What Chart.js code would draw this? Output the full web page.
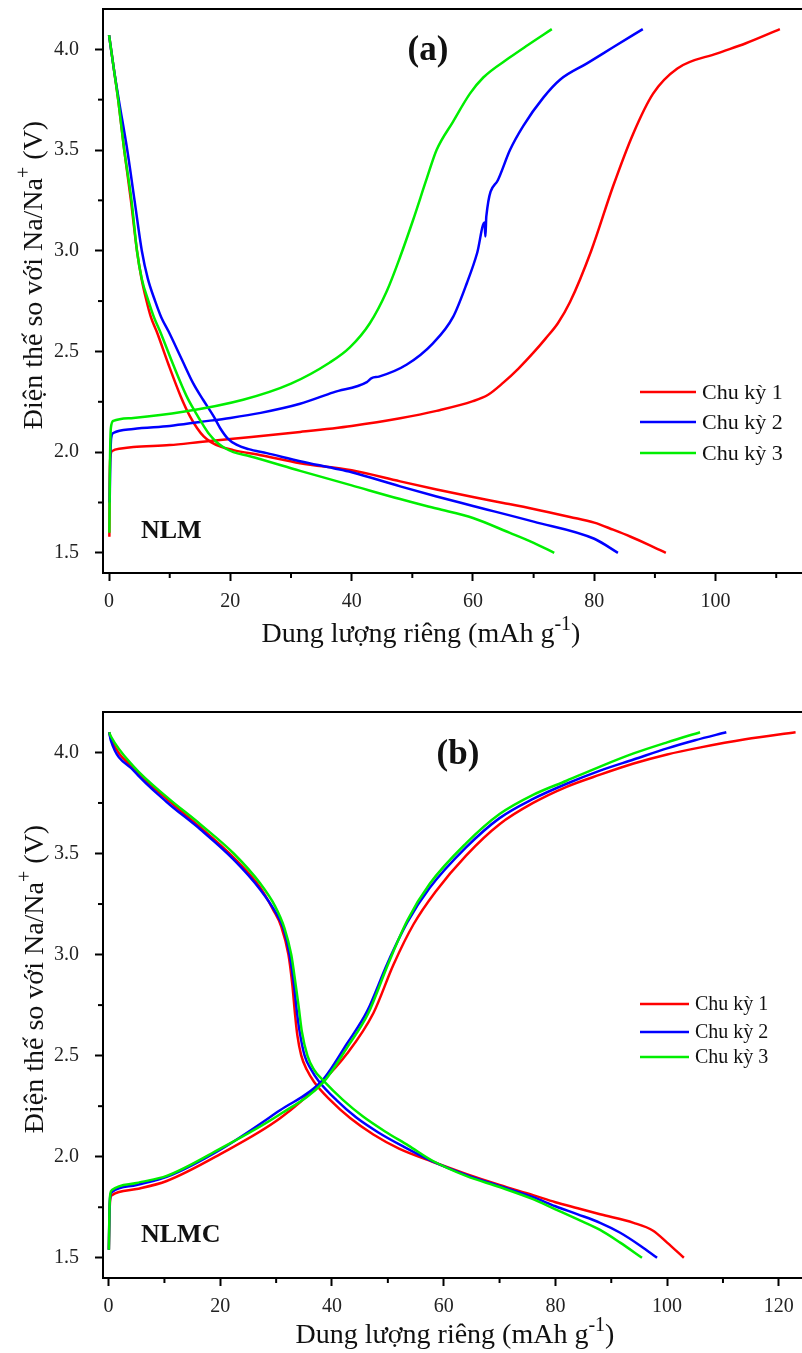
<!DOCTYPE html>
<html>
<head>
<meta charset="utf-8">
<script src="https://cdn.jsdelivr.net/npm/chart.js@4.4.0/dist/chart.umd.min.js"></script>
<style>
  body { margin: 0; background: #fff; }
  .panel { position: absolute; left: 0; width: 802px; }
</style>
</head>
<body>
<div class="panel" style="top:0;height:680px"><canvas id="chartA" width="802" height="680"></canvas></div>
<div class="panel" style="top:680px;height:673px"><canvas id="chartB" width="802" height="673"></canvas></div>
<script>
const FONT = '"Liberation Serif", "Times New Roman", serif';

// ---- (a) NLM : [capacity mAh/g, voltage V] ----
const nlmC1Discharge = [[0,4.07],[0.8,3.9],[1.5,3.75],[2.5,3.5],[3.6,3.25],[4.6,3.0],[5.3,2.87],[6.1,2.76],[6.9,2.67],[7.9,2.595],[9.8,2.435],[11.8,2.278],[13.3,2.18],[14.5,2.12],[15.6,2.078],[16.8,2.05],[18.5,2.026],[20.5,2.01],[25,1.985],[31.5,1.945],[40,1.91],[48,1.855],[54,1.815],[60,1.777],[65,1.748],[70,1.718],[76,1.678],[80,1.65],[83.1,1.615],[86,1.58],[89,1.54],[91.8,1.5]];
const nlmC2Discharge = [[0,4.07],[0.8,3.9],[1.6,3.75],[3.0,3.5],[4.2,3.25],[5.4,3.0],[6.4,2.86],[7.6,2.75],[8.6,2.67],[9.8,2.6],[12,2.46],[13.9,2.34],[15.5,2.26],[17.2,2.18],[18.3,2.12],[19.5,2.07],[21,2.037],[23,2.015],[26,1.995],[31.5,1.955],[37,1.92],[40,1.9],[48,1.83],[54,1.78],[60,1.733],[70,1.655],[80,1.57],[83.9,1.5]];
const nlmC3Discharge = [[0,4.07],[0.8,3.9],[1.5,3.75],[2.5,3.5],[3.7,3.25],[4.6,3.0],[5.4,2.86],[6.5,2.75],[7.4,2.67],[8.4,2.6],[10.5,2.44],[12.8,2.277],[14.2,2.2],[15.5,2.135],[16.5,2.09],[17.8,2.048],[19,2.022],[20.5,2.0],[23.2,1.98],[31.5,1.907],[40,1.835],[48,1.767],[54,1.72],[60,1.673],[66,1.6],[70,1.55],[73.4,1.5]];
const nlmC1Charge = [[0.05,1.58],[0.1,1.85],[0.2,1.97],[0.5,2.005],[2,2.018],[4,2.025],[10,2.035],[15,2.05],[20,2.065],[31.5,2.1],[40,2.13],[48,2.168],[54,2.205],[60,2.253],[62.5,2.285],[65,2.345],[67.5,2.415],[70,2.495],[72,2.565],[74,2.64],[76,2.745],[79.5,3.0],[83.1,3.32],[86.4,3.58],[89.7,3.78],[93.7,3.905],[100.3,3.98],[105,4.03],[110.6,4.1]];
const nlmC2Charge = [[0.1,1.75],[0.2,1.95],[0.35,2.07],[0.7,2.095],[4,2.115],[10,2.13],[15,2.15],[20,2.17],[25,2.195],[31.5,2.24],[37,2.297],[42.5,2.348],[43.3,2.368],[44.5,2.375],[49.1,2.435],[53.4,2.54],[56.7,2.67],[59,2.84],[60.7,2.99],[61.9,3.14],[62.05,3.07],[62.2,3.17],[64.1,3.35],[66.1,3.5],[68.3,3.62],[71.6,3.76],[74.4,3.85],[78.8,3.93],[83.1,4.01],[88,4.1]];
const nlmC3Charge = [[0.05,1.6],[0.15,1.95],[0.3,2.12],[0.7,2.155],[4,2.17],[12.2,2.2],[22.1,2.26],[30,2.34],[36.4,2.445],[39.7,2.52],[43,2.64],[45.8,2.8],[48,2.97],[50.1,3.15],[52.4,3.36],[54,3.5],[56.7,3.64],[59.5,3.78],[61.7,3.86],[66.1,3.96],[69,4.02],[73,4.1]];

// ---- (b) NLMC ----
const nlmcC1Discharge = [[0.1,4.1],[0.4,4.07],[4.5,3.92],[10.4,3.77],[16.4,3.63],[22.4,3.48],[27.2,3.33],[29.5,3.22],[30.9,3.14],[32.2,3.0],[32.9,2.85],[33.4,2.7],[33.8,2.6],[34.5,2.5],[35.5,2.43],[36.8,2.37],[39.7,2.28],[43.3,2.19],[47.4,2.11],[52,2.04],[58,1.975],[64,1.915],[70,1.86],[76,1.81],[80,1.775],[84,1.745],[88,1.715],[94,1.673],[97.5,1.634],[100,1.575],[103,1.5]];
const nlmcC2Discharge = [[0.1,4.1],[0.4,4.06],[4.5,3.91],[10.4,3.755],[16.4,3.62],[22.4,3.47],[27.2,3.32],[30.1,3.2],[31.3,3.13],[32.4,3.0],[33.2,2.85],[33.7,2.72],[34.2,2.62],[35.1,2.5],[36.3,2.43],[37.6,2.375],[40.8,2.28],[44.3,2.195],[48.3,2.12],[52.8,2.05],[58,1.977],[64,1.91],[70,1.855],[76,1.8],[80,1.755],[84,1.715],[88,1.673],[91.6,1.624],[95.2,1.56],[98.2,1.5]];
const nlmcC3Discharge = [[0.1,4.1],[0.4,4.08],[4.5,3.93],[10.4,3.78],[16.4,3.645],[22.4,3.5],[27.2,3.35],[29.8,3.24],[31.5,3.13],[32.7,3.0],[33.5,2.85],[34,2.75],[34.6,2.62],[35.6,2.5],[36.8,2.43],[38.5,2.375],[42,2.28],[45.5,2.2],[49.5,2.125],[53.7,2.055],[58,1.98],[64,1.905],[70,1.85],[76,1.79],[80,1.74],[84,1.69],[88,1.638],[91.6,1.575],[95.5,1.5]];
const nlmcC1Charge = [[0.05,1.54],[0.15,1.7],[0.3,1.79],[0.6,1.81],[5,1.84],[10.4,1.88],[20,2.013],[30.7,2.19],[38.2,2.37],[42.7,2.51],[47.4,2.71],[51,2.95],[54.6,3.15],[58.5,3.31],[64,3.49],[70,3.645],[76,3.75],[82,3.83],[88,3.89],[94,3.945],[100,3.99],[106,4.025],[114,4.065],[123,4.1]];
const nlmcC2Charge = [[0.05,1.54],[0.15,1.72],[0.3,1.805],[0.6,1.825],[5,1.86],[10.4,1.9],[20,2.035],[30.7,2.23],[38.2,2.375],[42.7,2.56],[46.3,2.72],[49.9,2.955],[53.5,3.16],[57.5,3.33],[64,3.53],[70,3.675],[76,3.77],[82,3.845],[88,3.91],[94,3.965],[100,4.02],[105,4.06],[110.6,4.1]];
const nlmcC3Charge = [[0.05,1.54],[0.15,1.73],[0.3,1.815],[0.6,1.835],[5,1.87],[10.4,1.905],[20,2.04],[30.7,2.21],[38.5,2.37],[42.7,2.54],[46.5,2.71],[50,2.95],[53.5,3.17],[57.5,3.35],[64,3.55],[70,3.695],[76,3.79],[82,3.86],[88,3.93],[94,3.995],[100,4.05],[105.9,4.1]];

const legendLabels = ['Chu kỳ 1', 'Chu kỳ 2', 'Chu kỳ 3'];
const cycleColors = ['#ff0000', '#0000ff', '#00ee00'];

const xTicksA = [0, 20, 40, 60, 80, 100];
const xMinorA = [10, 30, 50, 70, 90, 110];
const xTicksB = [0, 20, 40, 60, 80, 100, 120];
const xMinorB = [10, 30, 50, 70, 90, 110];
const yTicks = [1.5, 2.0, 2.5, 3.0, 3.5, 4.0];
const yMinor = [1.75, 2.25, 2.75, 3.25, 3.75];

const xTitle = [{ t: 'Dung lượng riêng (mAh g' }, { t: '-1', sup: true }, { t: ')' }];
const yTitle = [{ t: 'Điện thế so với Na/Na' }, { t: '+', sup: true }, { t: ' (V)' }];

function toXY(arr) { return arr.map(p => ({ x: p[0], y: p[1] })); }

function drawRich(ctx, parts, size, cx, baseY) {
  const fontOf = p => (p.sup ? Math.round(size * 0.72) : size) + 'px ' + FONT;
  const widths = parts.map(p => { ctx.font = fontOf(p); return ctx.measureText(p.t).width; });
  let xx = cx - widths.reduce((s, w) => s + w, 0) / 2;
  ctx.textAlign = 'left';
  ctx.textBaseline = 'alphabetic';
  parts.forEach((p, i) => {
    ctx.font = fontOf(p);
    ctx.fillText(p.t, xx, baseY - (p.sup ? size * 0.42 : 0));
    xx += widths[i];
  });
}

const decorPlugin = {
  id: 'decor',
  afterDraw(chart, args, o) {
    const { ctx, chartArea: a } = chart;
    const x = chart.scales.x, y = chart.scales.y;
    ctx.save();
    ctx.strokeStyle = '#000';
    ctx.lineWidth = 2;
    ctx.beginPath(); ctx.moveTo(a.left - 1, a.top); ctx.lineTo(a.right, a.top); ctx.stroke();
    o.minorX.forEach(v => {
      const px = x.getPixelForValue(v);
      ctx.beginPath(); ctx.moveTo(px, a.bottom); ctx.lineTo(px, a.bottom + 5); ctx.stroke();
    });
    o.minorY.forEach(v => {
      const py = y.getPixelForValue(v);
      ctx.beginPath(); ctx.moveTo(a.left, py); ctx.lineTo(a.left - 5, py); ctx.stroke();
    });

    // legend
    ctx.lineWidth = 2.5;
    ctx.fillStyle = '#111';
    ctx.font = o.legendSize + 'px ' + FONT;
    ctx.textAlign = 'left';
    ctx.textBaseline = 'middle';
    legendLabels.forEach((lab, i) => {
      const ly = o.legendY[i];
      ctx.strokeStyle = cycleColors[i];
      ctx.beginPath(); ctx.moveTo(o.legendX, ly); ctx.lineTo(o.legendX + o.legendLen, ly); ctx.stroke();
      ctx.fillText(lab, o.legendX + o.legendLen + 6, ly + 1);
    });

    // panel label and sample name
    ctx.fillStyle = '#111';
    ctx.font = 'bold ' + o.panelSize + 'px ' + FONT;
    ctx.textAlign = 'center';
    ctx.textBaseline = 'alphabetic';
    ctx.fillText(o.panel, o.panelPos[0], o.panelPos[1]);
    ctx.font = 'bold 26px ' + FONT;
    ctx.textAlign = 'left';
    ctx.fillText(o.sample, o.samplePos[0], o.samplePos[1]);

    // axis titles
    ctx.fillStyle = '#111';
    drawRich(ctx, xTitle, 28, o.xTitlePos[0], o.xTitlePos[1]);
    ctx.translate(o.yTitlePos[0], o.yTitlePos[1]);
    ctx.rotate(-Math.PI / 2);
    drawRich(ctx, yTitle, 28, 0, 0);
    ctx.restore();
  }
};

function makeChart(id, series, xMax, xTicks, xMinor, padTop, xAxisHeight, decor) {
  const datasets = [];
  // green (cycle 3) on top, red underneath
  [2, 1, 0].forEach((c, k) => {
    series[c].forEach(arr => {
      datasets.push({
        data: toXY(arr),
        borderColor: cycleColors[c],
        borderWidth: 2.5,
        pointRadius: 0,
        fill: false,
        cubicInterpolationMode: 'monotone',
        order: k + 1
      });
    });
  });

  return new Chart(document.getElementById(id), {
    type: 'line',
    data: { datasets },
    plugins: [decorPlugin],
    options: {
      responsive: false,
      animation: false,
      layout: { padding: { top: padTop, left: 0, right: 0, bottom: 0 } },
      scales: {
        x: {
          type: 'linear',
          min: -1,
          max: xMax,
          border: { display: true, color: '#000', width: 2 },
          grid: { display: true, drawOnChartArea: false, drawTicks: true, tickLength: 8, tickColor: '#000', tickWidth: 2 },
          ticks: { color: '#222', font: { family: FONT, size: 20 }, padding: 9, maxRotation: 0, callback: v => String(v) },
          afterBuildTicks: s => { s.ticks = xTicks.map(v => ({ value: v })); },
          afterFit: s => { s.height = xAxisHeight; s.paddingLeft = 0; s.paddingRight = 0; }
        },
        y: {
          type: 'linear',
          min: 1.4,
          max: 4.2,
          border: { display: true, color: '#000', width: 2 },
          grid: { display: true, drawOnChartArea: false, drawTicks: true, tickLength: 8, tickColor: '#000', tickWidth: 2 },
          ticks: { color: '#222', font: { family: FONT, size: 20 }, padding: 16, callback: v => v.toFixed(1) },
          afterBuildTicks: s => { s.ticks = yTicks.map(v => ({ value: v })); },
          afterFit: s => { s.width = 103; s.paddingTop = 0; s.paddingBottom = 0; }
        }
      },
      plugins: {
        legend: { display: false },
        tooltip: { enabled: false },
        decor: Object.assign({ minorX: xMinor, minorY: yMinor }, decor)
      }
    }
  });
}

makeChart('chartA',
  [[nlmC1Discharge, nlmC1Charge], [nlmC2Discharge, nlmC2Charge], [nlmC3Discharge, nlmC3Charge]],
  114.25, xTicksA, xMinorA, 9, 107,
  {
    legendX: 640, legendLen: 56, legendY: [392, 422, 453], legendSize: 22,
    panel: '(a)', panelSize: 35, panelPos: [428, 60],
    sample: 'NLM', samplePos: [141, 538],
    xTitlePos: [421, 642], yTitlePos: [42, 275]
  });

makeChart('chartB',
  [[nlmcC1Discharge, nlmcC1Charge], [nlmcC2Discharge, nlmcC2Charge], [nlmcC3Discharge, nlmcC3Charge]],
  124.15, xTicksB, xMinorB, 32, 75,
  {
    legendX: 640, legendLen: 49, legendY: [324, 352, 377], legendSize: 20,
    panel: '(b)', panelSize: 35, panelPos: [458, 84],
    sample: 'NLMC', samplePos: [141, 562],
    xTitlePos: [455, 663], yTitlePos: [43, 299]
  });
</script>
</body>
</html>
